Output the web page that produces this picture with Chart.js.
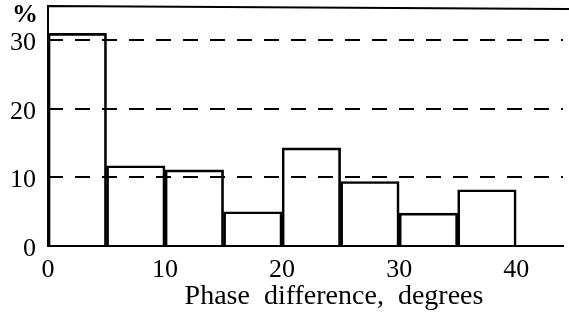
<!DOCTYPE html>
<html>
<head>
<meta charset="utf-8">
<script src="https://cdn.jsdelivr.net/npm/chart.js@4"></script>
<style>
  html, body { margin: 0; padding: 0; background: #fff; }
  #wrap { width: 569px; height: 322px; }
</style>
</head>
<body>
<div id="wrap"><canvas id="canvas" width="569" height="322"></canvas></div>
<script>
// histogram bins (degrees) and share of cases (%)
const binStarts = [0, 5, 10, 15, 20, 25, 30, 35];
const binWidth = 5;
const percents = [31.0, 11.7, 11.1, 5.0, 14.3, 9.4, 4.8, 8.2];
const xTicks = [0, 10, 20, 30, 40];
const yTicks = [0, 10, 20, 30];
const xTitle = 'Phase  difference,  degrees';
const yUnit = '%';

const serif = 'Liberation Serif';

// frame lines (top + left axis), the "%" unit and the x title
const extras = {
    id: 'extras',
    afterDraw(chart) {
        let c = chart.ctx;
        let area = chart.chartArea;
        c.save();
        c.strokeStyle = '#000';
        c.lineWidth = 2;
        c.beginPath();
        c.moveTo(area.left, area.bottom);
        c.lineTo(area.left, area.top);
        c.lineTo(chart.width, area.top + 3);
        c.stroke();
        c.fillStyle = '#000';
        c.font = 'bold 26px "' + serif + '"';
        c.textAlign = 'center';
        c.textBaseline = 'middle';
        c.fillText(yUnit, 25, 15);
        c.font = '28px "' + serif + '"';
        c.textBaseline = 'alphabetic';
        c.fillText(xTitle, 334, 304);
        c.restore();
    }
};

let ctx = document.getElementById('canvas').getContext('2d');
window.myBar = new Chart(ctx, {
    type: 'bar',
    data: {
        datasets: [{
            data: binStarts.map((s, i) => ({ x: s + binWidth / 2, y: percents[i] })),
            backgroundColor: 'rgba(0,0,0,0)',
            borderColor: '#000',
            borderWidth: 2,
            barPercentage: 1,
            categoryPercentage: 1
        }]
    },
    options: {
        responsive: false,
        animation: false,
        layout: { padding: { top: 6, right: 6, left: 0, bottom: 0 } },
        plugins: { legend: { display: false }, tooltip: { enabled: false } },
        scales: {
            x: {
                type: 'linear',
                offset: false,
                min: 0,
                max: 44,
                afterFit(scale) {
                    scale.height = 76;
                    scale.paddingLeft = 0;
                    scale.paddingRight = 0;
                },
                afterBuildTicks(scale) { scale.ticks = xTicks.map(v => ({ value: v })); },
                grid: { display: false, drawTicks: false },
                border: { display: true, color: '#000', width: 2 },
                ticks: {
                    color: '#000',
                    padding: 9,
                    maxRotation: 0,
                    font: { family: serif, size: 26 }
                }
            },
            y: {
                min: 0,
                max: 35,
                afterFit(scale) {
                    scale.width = 48;
                    scale.paddingTop = 0;
                    scale.paddingBottom = 0;
                },
                afterBuildTicks(scale) { scale.ticks = yTicks.map(v => ({ value: v })); },
                grid: {
                    drawTicks: false,
                    z: 1,
                    color: c => (c.tick && c.tick.value > 0 ? '#000' : 'rgba(0,0,0,0)'),
                    lineWidth: 2
                },
                border: { display: false, dash: [15, 12] },
                ticks: {
                    color: '#000',
                    padding: 12,
                    labelOffset: 3,
                    font: { family: serif, size: 26 }
                }
            }
        }
    },
    plugins: [extras]
});
</script>
</body>
</html>
